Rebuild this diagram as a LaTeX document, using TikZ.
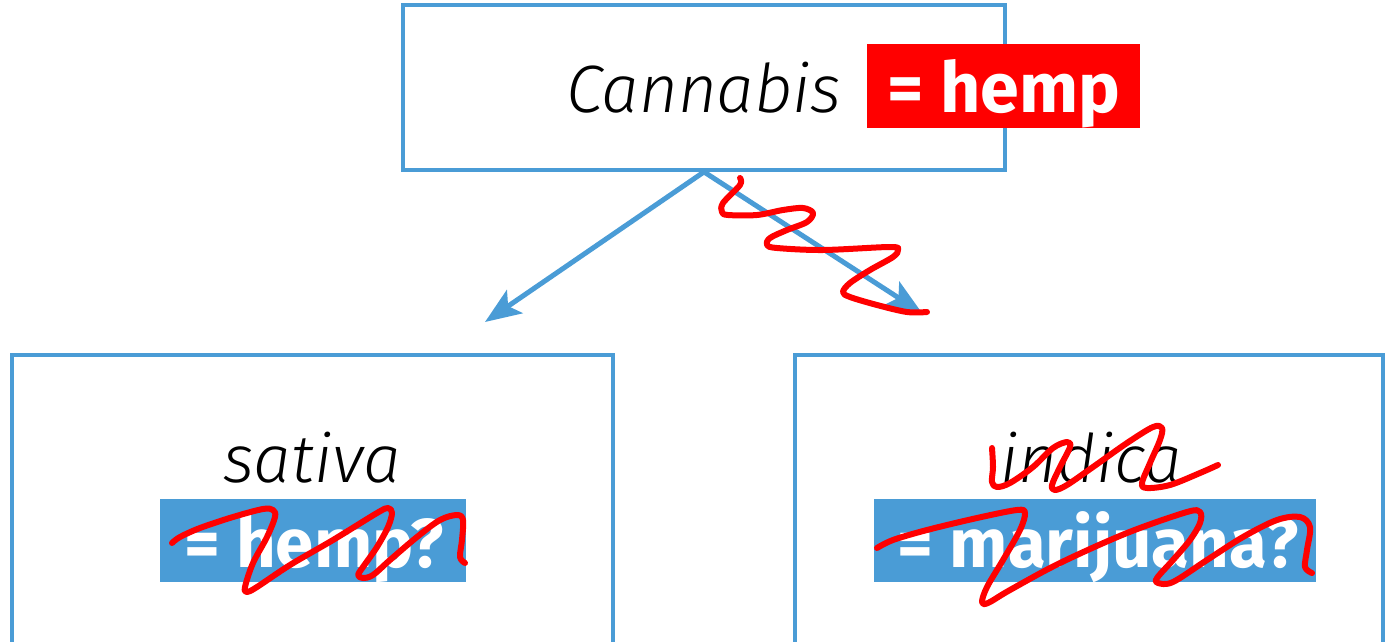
\documentclass[tikz,border=0pt]{standalone}
\usepackage{fontspec}
\setmainfont{Fira Sans}
\newfontfamily\lightsans{Fira Sans Light}[ItalicFont={Fira Sans Light Italic}]
\usetikzlibrary{arrows.meta}
\definecolor{boxblue}{RGB}{74,156,214}
\definecolor{markred}{RGB}{255,0,0}
\tikzset{
  frame/.style={draw=boxblue, line width=3.8pt, fill=white, inner sep=0pt},
  taxon/.style={font=\lightsans\itshape\fontsize{67}{67}\selectfont, inner sep=0pt, text=black},
  tag/.style={font=\bfseries\fontsize{69}{69}\selectfont, text=white, inner sep=0pt},
  link/.style={draw=boxblue, line width=5pt, -{Stealth[length=36pt, width=28pt, inset=8pt]}},
  scrawl/.style={draw=markred, line width=6pt, line cap=round, line join=round}
}
\begin{document}
\begin{tikzpicture}[x=1pt, y=-1pt]
\useasboundingbox (0,0) rectangle (1385,642);

% boxes
\node[frame, minimum width=602pt, minimum height=165pt] (top) at (704,87.5) {};
\node[frame, minimum width=601pt, minimum height=320pt] (left) at (312.5,515) {};
\node[frame, minimum width=588pt, minimum height=320pt] (right) at (1089,515) {};

% genus
\node[taxon, anchor=base west] (genus) at (566,112) {Cannabis};
\node[fill=markred, minimum width=273pt, minimum height=84pt, inner sep=0pt] (hempbox) at (1003.5,86) {};
\node[tag, anchor=base, font=\bfseries\fontsize{70}{70}\selectfont] (hemp) at (1004,112) {= hemp};

% species
\node[taxon, anchor=base] (sativa) at (312,482) {sativa};
\node[taxon, anchor=base] (indica) at (1091,482) {indica};
\node[fill=boxblue, minimum width=306pt, minimum height=83pt, inner sep=0pt] (sbox) at (313,540.5) {};
\node[tag, anchor=base] (slabel) at (314,567) {= hemp?};
\node[fill=boxblue, minimum width=442pt, minimum height=83pt, inner sep=0pt] (ibox) at (1095,540.5) {};
\node[tag, anchor=base] (ilabel) at (1098,567) {= marijuana?};

% branches
\coordinate (sattip) at (485,322);
\coordinate (indtip) at (922,313);
\draw[link] (top.south) -- (sattip);
\draw[link] (top.south) -- (indtip);

% crossings-out
\draw[scrawl] plot[smooth, tension=0.55] coordinates {
  (740,178) (740,185) (723,203) (722,212) (728,215) (757,215) (783,210) (803,208)
  (813,213) (807,222) (787,230) (770,238) (767,245) (777,248) (823,250) (890,247)
  (898,250) (893,257) (870,270) (850,283) (843,292) (850,297) (877,305) (907,312) (927,312)};
\draw[scrawl] plot[smooth, tension=0.55] coordinates {
  (172,543) (180,537) (200,528) (233,517) (263,509) (273,510) (275,517) (267,537)
  (253,563) (245,587) (247,592) (257,587) (290,565) (333,540) (377,513) (388,508)
  (392,513) (388,527) (377,547) (363,567) (358,575) (363,578) (373,575) (390,560)
  (417,537) (440,520) (457,515) (463,520) (462,540) (460,557) (465,563)};
\draw[scrawl] plot[smooth, tension=0.55] coordinates {
  (992,448) (993,467) (992,482) (997,487) (1010,483) (1033,467) (1053,448) (1067,442)
  (1070,447) (1060,467) (1052,485) (1055,490) (1067,485) (1093,467) (1127,443)
  (1153,427) (1162,428) (1160,440) (1150,463) (1142,483) (1147,488) (1170,485)
  (1200,473) (1218,465)};
\draw[scrawl] plot[smooth, tension=0.55] coordinates {
  (877,548) (893,540) (927,530) (977,518) (1017,510) (1025,513) (1020,530) (1003,560)
  (987,587) (982,602) (988,603) (1010,590) (1060,563) (1127,533) (1187,512) (1200,512)
  (1200,523) (1190,540) (1173,560) (1157,578) (1158,583) (1173,582) (1207,560)
  (1243,537) (1277,520) (1300,517) (1310,527) (1307,550) (1305,567) (1312,573)};
\end{tikzpicture}
\end{document}
